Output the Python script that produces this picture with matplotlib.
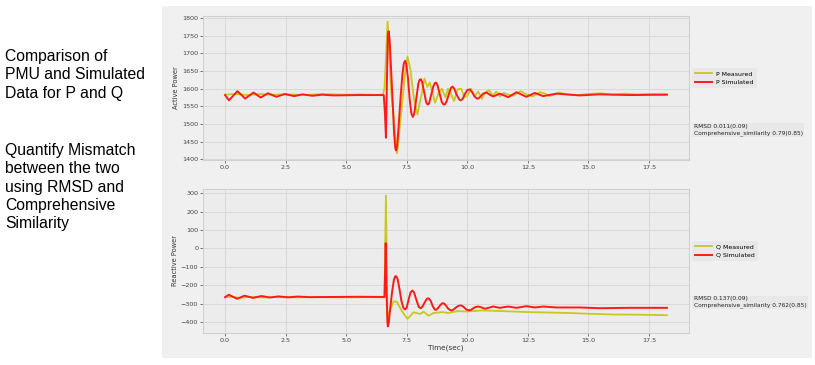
import matplotlib.pyplot as plt
from matplotlib.patches import Rectangle

# ---- data ----
t_p_sim = [0.0, 0.16, 0.51, 0.83, 1.17, 1.47, 1.77, 2.12, 2.46, 2.85, 3.2, 3.6, 4.0, 4.5, 5.5, 6.55,
           6.6, 6.64, 6.68, 6.72, 6.75, 6.79, 6.85, 6.92, 6.98, 7.03, 7.06, 7.1, 7.17, 7.25, 7.32,
           7.38, 7.43, 7.48, 7.55, 7.62, 7.69, 7.75, 7.81, 7.9, 7.98, 8.03, 8.08, 8.13, 8.22, 8.3,
           8.36, 8.42, 8.5, 8.6, 8.66, 8.71, 8.77, 8.86, 8.95, 9.02, 9.08, 9.15, 9.24, 9.32, 9.39,
           9.46, 9.56, 9.66, 9.72, 9.8, 9.9, 10.0, 10.1, 10.2, 10.3, 10.4, 10.45, 10.55, 10.65, 10.8,
           10.95, 11.07, 11.34, 11.69, 12.03, 12.44, 12.79, 13.13, 13.68, 14.64, 15.46, 16.7, 18.24]
p_sim = [1582, 1567, 1593, 1572, 1589, 1575, 1587, 1577, 1585, 1579, 1584, 1580, 1583, 1581, 1582, 1582,
         1530, 1461, 1620, 1750, 1763, 1740, 1660, 1560, 1470, 1430, 1425, 1435, 1500, 1580, 1640,
         1672, 1679, 1670, 1630, 1570, 1530, 1520, 1530, 1575, 1615, 1625, 1627, 1620, 1590, 1562,
         1555, 1558, 1580, 1607, 1616, 1617, 1610, 1585, 1562, 1555, 1556, 1565, 1585, 1602, 1606,
         1600, 1583, 1570, 1567, 1570, 1585, 1596, 1598, 1590, 1578, 1572, 1572, 1578, 1586, 1589,
         1582, 1578, 1586, 1576, 1590, 1577, 1588, 1579, 1586, 1581, 1584, 1582, 1583]

t_p_meas = [0.0, 0.4, 0.9, 1.4, 2.0, 2.6, 3.3, 4.0, 4.8, 5.6, 6.3, 6.52, 6.58, 6.71, 6.85, 7.1, 7.3,
            7.45, 7.53, 7.65, 7.8, 7.94, 8.1, 8.23, 8.35, 8.45, 8.67, 8.8, 8.95, 9.1, 9.2, 9.3, 9.45,
            9.6, 9.75, 9.88, 10.0, 10.15, 10.3, 10.45, 10.6, 10.75, 10.9, 11.05, 11.2, 11.35, 11.5,
            11.7, 11.9, 12.2, 12.45, 12.7, 13.0, 13.2, 13.4, 13.8, 14.1, 14.5, 15.0, 15.5, 16.0,
            16.5, 17.0, 17.5, 18.24]
p_meas = [1583, 1585, 1582, 1585, 1583, 1584, 1582, 1585, 1583, 1584, 1582, 1584, 1601, 1790, 1600, 1417, 1550,
          1660, 1691, 1655, 1570, 1527, 1580, 1629, 1605, 1618, 1560, 1585, 1600, 1575, 1600, 1590, 1565,
          1598, 1600, 1575, 1580, 1600, 1578, 1592, 1571, 1590, 1596, 1580, 1592, 1578, 1588,
          1583, 1580, 1593, 1584, 1578, 1590, 1586, 1579, 1589, 1584, 1582, 1585, 1587, 1583,
          1586, 1584, 1585, 1584]

t_q_sim = [0.0, 0.15, 0.5, 0.8, 1.15, 1.5, 1.85, 2.2, 2.6, 3.0, 3.5, 4.5, 5.5, 6.58, 6.61, 6.63,
           6.66, 6.7, 6.72, 6.76, 6.82, 6.9, 6.97, 7.02, 7.06, 7.12, 7.2, 7.28, 7.36, 7.43, 7.5,
           7.58, 7.66, 7.73, 7.8, 7.9, 8.0, 8.08, 8.15, 8.25, 8.34, 8.41, 8.48, 8.58, 8.66, 8.71,
           8.78, 8.9, 8.96, 9.01, 9.08, 9.2, 9.3, 9.35, 9.42, 9.55, 9.66, 9.74, 9.82, 9.95, 10.07,
           10.15, 10.3, 10.43, 10.55, 10.73, 11.07, 11.34, 11.69, 12.03, 12.44, 12.79, 13.13, 13.68,
           14.64, 15.46, 16.7, 18.24]
q_sim = [-264, -251, -273, -256, -268, -258, -266, -260, -265, -261, -264, -263, -262, -263, -100, 29,
         -200, -400, -423, -400, -320, -230, -170, -152, -150, -165, -220, -285, -322, -331, -320,
         -275, -238, -228, -238, -280, -318, -324, -315, -290, -272, -271, -282, -315, -332, -333,
         -325, -305, -298, -297, -303, -325, -335, -336, -332, -318, -310, -309, -314, -330, -336,
         -333, -320, -315, -318, -327, -315, -322, -315, -322, -313, -320, -315, -320,
         -320, -324, -322, -322]

t_q_meas = [0.0, 0.3, 0.6, 1.0, 1.5, 2.0, 3.0, 4.0, 5.0, 6.0, 6.58, 6.64, 6.7, 6.96, 7.09, 7.3,
            7.53, 7.78, 8.05, 8.2, 8.4, 8.6, 9.0, 9.2, 9.6, 10.0, 10.6, 11.5, 12.5, 13.5, 14.2,
            15.0, 16.0, 17.0, 18.24]
q_meas = [-265, -262, -268, -263, -266, -264, -265, -264, -265, -264, -265, 287, -373, -286, -290, -340,
          -382, -346, -355, -343, -365, -350, -345, -350, -340, -342, -336, -340, -345, -348, -350,
          -354, -358, -359, -362]

c_meas = '#c8c81e'
c_sim = '#ff1a1a'
W, H = 815, 365

fig = plt.figure(figsize=(8.15, 3.65), dpi=100, facecolor='white')

# grey panel behind the screenshot of the plots
fig.patches.append(Rectangle((162 / W, 1 - 358 / H), (812 - 162) / W, (358 - 6) / H,
                             transform=fig.transFigure, facecolor='#f0f0f0', edgecolor='none', zorder=-10))

fig.text(0.006, 1 - 49 / H, 'Comparison of\nPMU and Simulated\nData for P and Q',
         fontsize=11.3, family=['Liberation Sans', 'DejaVu Sans'], va='top', linespacing=1.28)
fig.text(0.006, 1 - 143 / H, 'Quantify Mismatch\nbetween the two\nusing RMSD and\nComprehensive\nSimilarity',
         fontsize=11.3, family=['Liberation Sans', 'DejaVu Sans'], va='top', linespacing=1.28)


def style_axes(ax):
    ax.set_facecolor('#ececec')
    for s in ax.spines.values():
        s.set_color('#d0d0d0')
        s.set_linewidth(0.8)
    ax.grid(True, color='#d6d6d6', linewidth=0.6)
    ax.set_axisbelow(True)
    ax.tick_params(labelsize=4.6, colors='#444444', length=2, width=0.5, pad=1.5)
    ax.set_xticks([0, 2.5, 5, 7.5, 10, 12.5, 15, 17.5])


leg_kw = dict(loc='center left', bbox_to_anchor=(1.0, 0.57), fontsize=4.5, frameon=True,
              facecolor='#e6e6e6', edgecolor='none', handlelength=2.6, borderpad=0.5, labelspacing=0.45)

ax1 = fig.add_axes([203 / W, 1 - 160 / H, 486 / W, 144 / H])
ax1.plot(t_p_meas, p_meas, color=c_meas, lw=1.3, label='P Measured')
ax1.plot(t_p_sim, p_sim, color=c_sim, lw=1.4, label='P Simulated')
ax1.set_ylim(1398, 1806)
ax1.set_yticks(range(1400, 1801, 50))
ax1.set_ylabel('Active Power', fontsize=4.8, color='#333333', labelpad=2)
style_axes(ax1)
ax1.legend(**leg_kw)
ax1.text(1.01, 0.21, 'RMSD 0.011(0.09)\nComprehensive_similarity 0.79(0.85)', transform=ax1.transAxes,
         fontsize=4.2, va='center', color='#222222',
         bbox=dict(facecolor='#e8e8e8', edgecolor='none', pad=1))

ax2 = fig.add_axes([203 / W, 1 - 333 / H, 486 / W, 144 / H])
ax2.plot(t_q_meas, q_meas, color=c_meas, lw=1.3, label='Q Measured')
ax2.plot(t_q_sim, q_sim, color=c_sim, lw=1.4, label='Q Simulated')
ax2.set_yticks(range(-400, 301, 100))
ax2.set_ylabel('Reactive Power', fontsize=4.8, color='#333333', labelpad=2)
ax2.set_xlabel('Time(sec)', fontsize=5.2, color='#333333')
ax2.xaxis.set_label_coords(0.5, -0.083)
style_axes(ax2)
ax2.legend(**leg_kw)
ax2.text(1.01, 0.215, 'RMSD 0.137(0.09)\nComprehensive_similarity 0.762(0.85)', transform=ax2.transAxes,
         fontsize=4.2, va='center', color='#222222',
         bbox=dict(facecolor='#e8e8e8', edgecolor='none', pad=1))

plt.savefig('out.png', dpi=100, facecolor='white')
